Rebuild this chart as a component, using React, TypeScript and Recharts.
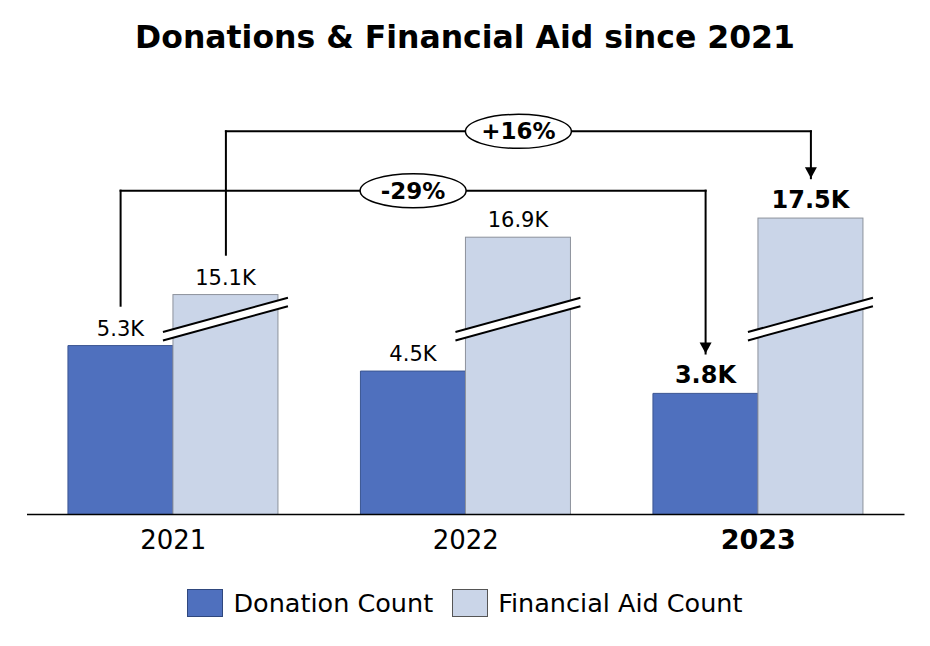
import React from 'react';
import { BarChart, Bar, XAxis, YAxis, LabelList, ReferenceLine, ReferenceDot } from 'recharts';

const years = ['2021', '2022', '2023'];
const donationCount = [5.3, 4.5, 3.8];
const financialAidCount = [15.1, 16.9, 17.5];
const highlightYear = '2023';

const seriesNames = ['Donation Count', 'Financial Aid Count'];
const seriesColors = ['#4f70be', '#cad5e8'];
const seriesStrokes = ['#3b5592', '#8d929c'];

// financial aid bars sit on a broken axis: this much (K) is cut out at the break
const AID_HIDDEN = 8.2;
// height of the break band, in plotted units
const BREAK_AT = 6.13;

// change callouts: bracket from the 2021 bar to the 2023 bar
const changes = [
  { label: '+16%', series: 'aid', level: 12.02 },
  { label: '-29%', series: 'donation', level: 10.16 },
];
const ARROW_GAP = 1.25;

const FONT = "'DejaVu Sans', sans-serif";
const W = 930;
const H = 646;

const GAP = 0.14; // barCategoryGap as a fraction of the band
const BAR_FRAC = (1 - 2 * GAP) / 2;

const chartData = years.map((year, i) => ({
  year,
  slot: i,
  donation: donationCount[i],
  aid: financialAidCount[i],
}));

const fmt = (v: number) => `${v.toFixed(1)}K`;

function BrokenBar(props: any) {
  const { x, y, width, height, fill, stroke, payload } = props;
  const bottom = y + height;
  const cy = bottom - (height * BREAK_AT) / (payload.aid - AID_HIDDEN);
  const cx = x + width / 2;
  const ext = 10;
  const half = 4.2;
  const tilt = 0.274;
  const x1 = x - ext;
  const x2 = x + width + ext;
  const yAt = (xx: number, off: number) => cy + off - (xx - cx) * tilt;
  return (
    <g>
      <rect x={x} y={y} width={width} height={height} fill={fill} stroke={stroke} strokeWidth={1} />
      <polygon
        points={`${x1},${yAt(x1, -half)} ${x2},${yAt(x2, -half)} ${x2},${yAt(x2, half)} ${x1},${yAt(x1, half)}`}
        fill="#fff"
      />
      <line x1={x1} y1={yAt(x1, -half)} x2={x2} y2={yAt(x2, -half)} stroke="#000" strokeWidth={2} />
      <line x1={x1} y1={yAt(x1, half)} x2={x2} y2={yAt(x2, half)} stroke="#000" strokeWidth={2} />
    </g>
  );
}

function ValueLabel(props: any) {
  const { x, y, width, value, index } = props;
  const bold = years[index] === highlightYear;
  return (
    <text
      x={x + width / 2}
      y={y - 10}
      textAnchor="middle"
      fontFamily={FONT}
      fontSize={bold ? 24 : 21}
      fontWeight={bold ? 700 : 400}
      fill="#000"
    >
      {fmt(Number(value))}
    </text>
  );
}

function YearTick(props: any) {
  const { x, y, payload } = props;
  const bold = payload.value === highlightYear;
  return (
    <text
      x={x}
      y={y + 34}
      textAnchor="middle"
      fontFamily={FONT}
      fontSize={bold ? 27 : 26}
      fontWeight={bold ? 700 : 400}
      fill="#000"
    >
      {payload.value}
    </text>
  );
}

function Arrowhead(props: any) {
  const { cx, cy } = props;
  return <path d={`M${cx - 6},${cy - 11} L${cx + 6},${cy - 11} L${cx},${cy} Z`} fill="#000" />;
}

function ChangeBadge(text: string) {
  return (props: any) => {
    const { cx, cy } = props;
    return (
      <g>
        <ellipse cx={cx} cy={cy} rx={53} ry={17} fill="#fff" stroke="#000" strokeWidth={1.5} />
        <text x={cx} y={cy + 8} textAnchor="middle" fontFamily={FONT} fontSize={23} fontWeight={700} fill="#000">
          {text}
        </text>
      </g>
    );
  };
}

export default function App() {
  const last = years.length - 1;
  const centerOf = (series: string, i: number) =>
    series === 'donation' ? i + GAP + BAR_FRAC / 2 : i + 0.5 + BAR_FRAC / 2;
  const topOf = (series: string, i: number) =>
    series === 'donation' ? donationCount[i] : financialAidCount[i] - AID_HIDDEN;

  return (
    <div style={{ position: 'absolute', left: 0, top: 0, width: W, height: H, background: '#fff' }}>
      <div
        style={{
          position: 'absolute',
          left: 0,
          width: W,
          top: 19,
          textAlign: 'center',
          fontFamily: FONT,
          fontWeight: 700,
          fontSize: 31.5,
          lineHeight: '36px',
          color: '#000',
        }}
      >
        Donations &amp; Financial Aid since 2021
      </div>
      <BarChart
        width={W}
        height={H}
        data={chartData}
        margin={{ top: 68.25, right: 25.5, bottom: 91.5, left: 27 }}
        barCategoryGap={`${GAP * 100}%`}
        barGap={0}
      >
        <XAxis
          dataKey="year"
          height={40}
          axisLine={{ stroke: '#000', strokeWidth: 1.5 }}
          tickLine={false}
          tickSize={0}
          tickMargin={0}
          tick={<YearTick />}
          interval={0}
        />
        <XAxis xAxisId="pos" dataKey="slot" type="number" domain={[0, years.length]} hide allowDataOverflow />
        <YAxis hide domain={[0, 14]} allowDataOverflow />
        <Bar
          dataKey="donation"
          fill={seriesColors[0]}
          stroke={seriesStrokes[0]}
          strokeWidth={1}
          isAnimationActive={false}
        >
          <LabelList dataKey="donation" content={<ValueLabel />} />
        </Bar>
        <Bar
          dataKey={(d: any) => d.aid - AID_HIDDEN}
          fill={seriesColors[1]}
          stroke={seriesStrokes[1]}
          shape={<BrokenBar />}
          isAnimationActive={false}
        >
          <LabelList dataKey="aid" content={<ValueLabel />} />
        </Bar>
        {changes.map((c) => {
          const xa = centerOf(c.series, 0);
          const xb = centerOf(c.series, last);
          const ya = topOf(c.series, 0) + ARROW_GAP;
          const yb = topOf(c.series, last) + ARROW_GAP;
          const lineProps = {
            xAxisId: 'pos',
            stroke: '#000',
            strokeWidth: 2,
            strokeLinecap: 'square' as const,
            ifOverflow: 'visible' as const,
          };
          return (
            <React.Fragment key={c.label}>
              <ReferenceLine {...lineProps} segment={[{ x: xa, y: ya }, { x: xa, y: c.level }]} />
              <ReferenceLine {...lineProps} segment={[{ x: xa, y: c.level }, { x: xb, y: c.level }]} />
              <ReferenceLine {...lineProps} segment={[{ x: xb, y: c.level }, { x: xb, y: yb }]} />
              <ReferenceDot xAxisId="pos" x={xb} y={yb} r={6} ifOverflow="visible" shape={<Arrowhead />} />
              <ReferenceDot
                xAxisId="pos"
                x={centerOf(c.series, 1)}
                y={c.level}
                r={20}
                ifOverflow="visible"
                shape={ChangeBadge(c.label)}
              />
            </React.Fragment>
          );
        })}
      </BarChart>
      <div
        style={{
          position: 'absolute',
          top: 589,
          left: 0,
          width: W,
          display: 'flex',
          justifyContent: 'center',
          alignItems: 'center',
          fontFamily: FONT,
          fontSize: 25.5,
          color: '#000',
        }}
      >
        {seriesNames.map((name, i) => (
          <div key={name} style={{ display: 'flex', alignItems: 'center', marginRight: i === 0 ? 19 : 0 }}>
            <div
              style={{
                width: 34,
                height: 26,
                background: seriesColors[i],
                border: `1px solid ${i === 0 ? '#2f477d' : '#555'}`,
                marginRight: 10,
              }}
            />
            <span style={{ lineHeight: '28px' }}>{name}</span>
          </div>
        ))}
      </div>
    </div>
  );
}
